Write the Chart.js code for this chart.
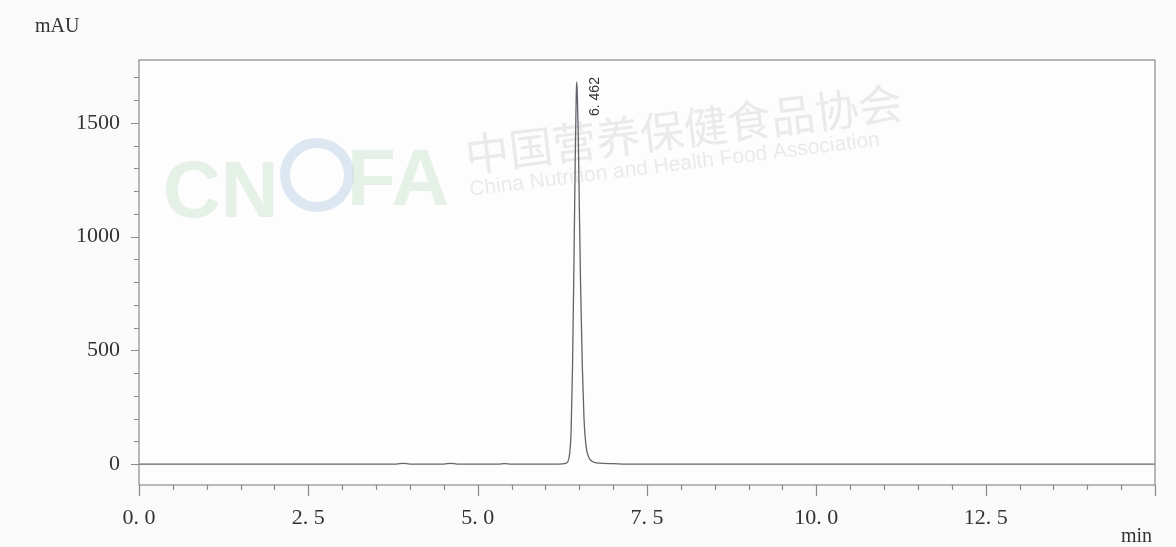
<!DOCTYPE html>
<html>
<head>
<meta charset="utf-8">
<script src="https://cdn.jsdelivr.net/npm/chart.js@4/dist/chart.umd.min.js"></script>
<style>
  html, body { margin: 0; padding: 0; background: #fafafa; }
  #wrap { width: 1176px; height: 547px; position: relative; }
</style>
</head>
<body>
<div id="wrap"><canvas id="chrom"></canvas></div>
<script>
// retention time (min) and detector signal (mAU)
const times = [0, 3.80, 3.90, 4.00, 4.50, 4.60, 4.70, 5.30, 5.40, 5.50, 6.20, 6.30, 6.35, 6.38, 6.40, 6.42, 6.44, 6.455, 6.462, 6.47, 6.485, 6.50, 6.52, 6.545, 6.57, 6.60, 6.64, 6.70, 6.80, 7.00, 7.20, 15.0];
const signal = [0, 0, 3, 0, 0, 3, 0, 0, 2, 0, 0, 3, 30, 150, 420, 850, 1330, 1620, 1680, 1640, 1450, 1150, 780, 430, 200, 80, 30, 10, 4, 2, 0, 0];
const peakLabels = [{ t: 6.462, text: "6. 462" }];
const xLabelTicks = [0, 2.5, 5, 7.5, 10, 12.5];
const yLabelTicks = [0, 500, 1000, 1500];

const fontFam = "'Liberation Serif', 'DejaVu Serif', serif";

const points = times.map((t, i) => ({ x: t, y: signal[i] }));

const fmtX = (v) => v.toFixed(1).replace(".", ". ");

const framePlugin = {
  id: "frame",
  beforeDraw(chart) {
    const c = chart.ctx;
    const a = chart.chartArea;
    c.save();
    c.fillStyle = "#fdfdfd";
    c.fillRect(a.left, a.top, a.right - a.left, a.bottom - a.top);
    // faint watermark
    c.fillStyle = "rgba(200,225,205,0.45)";
    c.font = "bold 80px 'Liberation Sans', sans-serif";
    c.fillText("CN", 163, 217);
    c.fillText("FA", 347, 205);
    c.strokeStyle = "rgba(190,210,230,0.5)";
    c.lineWidth = 10;
    c.beginPath();
    c.arc(317, 175, 32, 0, Math.PI * 2);
    c.stroke();
    c.translate(468, 178);
    c.rotate(-7 * Math.PI / 180);
    c.fillStyle = "rgba(215,215,215,0.5)";
    c.font = "44px 'Noto Sans CJK SC', sans-serif";
    c.fillText("中国营养保健食品协会", 0, -6);
    c.font = "21px 'Liberation Sans', sans-serif";
    c.fillText("China Nutrition and Health Food Association", 0, 18);
    c.restore();
  },
  afterDraw(chart) {
    const c = chart.ctx;
    const a = chart.chartArea;
    const xs = chart.scales.x;
    const ys = chart.scales.y;
    c.save();
    c.strokeStyle = "#8a8a8a";
    c.lineWidth = 1.2;
    c.strokeRect(a.left, a.top, a.right - a.left, a.bottom - a.top);
    // ticks
    c.beginPath();
    xs.ticks.forEach((tk) => {
      const px = Math.round(xs.getPixelForValue(tk.value)) + 0.5;
      const major = xLabelTicks.some((v) => Math.abs(v - tk.value) < 1e-6) || Math.abs(tk.value - 15) < 1e-6;
      c.moveTo(px, a.bottom);
      c.lineTo(px, a.bottom + (major ? 11 : 5));
    });
    ys.ticks.forEach((tk) => {
      const py = Math.round(ys.getPixelForValue(tk.value)) + 0.5;
      const major = yLabelTicks.includes(tk.value);
      c.moveTo(a.left, py);
      c.lineTo(a.left - (major ? 8 : 5), py);
    });
    c.stroke();
    // axis units
    c.fillStyle = "#333";
    c.font = "20px " + fontFam;
    c.textBaseline = "middle";
    c.textAlign = "left";
    c.fillText("mAU", 35, 27);
    c.fillText("min", 1121, 537);
    // peak label
    c.font = "14px 'Liberation Sans', sans-serif";
    peakLabels.forEach((p) => {
      const px = xs.getPixelForValue(p.t);
      c.save();
      c.translate(px + 22, 116);
      c.rotate(-Math.PI / 2);
      c.textAlign = "left";
      c.textBaseline = "alphabetic";
      c.fillText(p.text, 0, 0);
      c.restore();
    });
    c.restore();
  }
};

new Chart(document.getElementById("chrom"), {
  type: "scatter",
  data: {
    datasets: [{
      data: points,
      showLine: true,
      borderColor: "#60656c",
      borderWidth: 1.3,
      pointRadius: 0,
      cubicInterpolationMode: "monotone",
      fill: false
    }]
  },
  options: {
    responsive: true,
    maintainAspectRatio: false,
    animation: false,
    layout: { padding: { top: 60, right: 21, left: 0, bottom: 0 } },
    plugins: { legend: { display: false }, tooltip: { enabled: false } },
    scales: {
      x: {
        type: "linear",
        min: 0,
        max: 15,
        afterFit: (s) => { s.height = 62; },
        ticks: {
          stepSize: 0.5,
          autoSkip: false,
          maxRotation: 0,
          padding: 12,
          color: "#333",
          font: { family: fontFam, size: 22 },
          callback: (v) => xLabelTicks.some((t) => Math.abs(t - v) < 1e-6) ? fmtX(v) : ""
        },
        grid: { display: false },
        border: { display: false }
      },
      y: {
        type: "linear",
        min: -92,
        max: 1776,
        afterFit: (s) => { s.width = 139; },
        ticks: {
          stepSize: 100,
          includeBounds: false,
          autoSkip: false,
          padding: 11,
          color: "#333",
          font: { family: fontFam, size: 22 },
          callback: (v) => yLabelTicks.includes(v) ? String(v) : ""
        },
        grid: { display: false },
        border: { display: false }
      }
    }
  },
  plugins: [framePlugin]
});
</script>
</body>
</html>
